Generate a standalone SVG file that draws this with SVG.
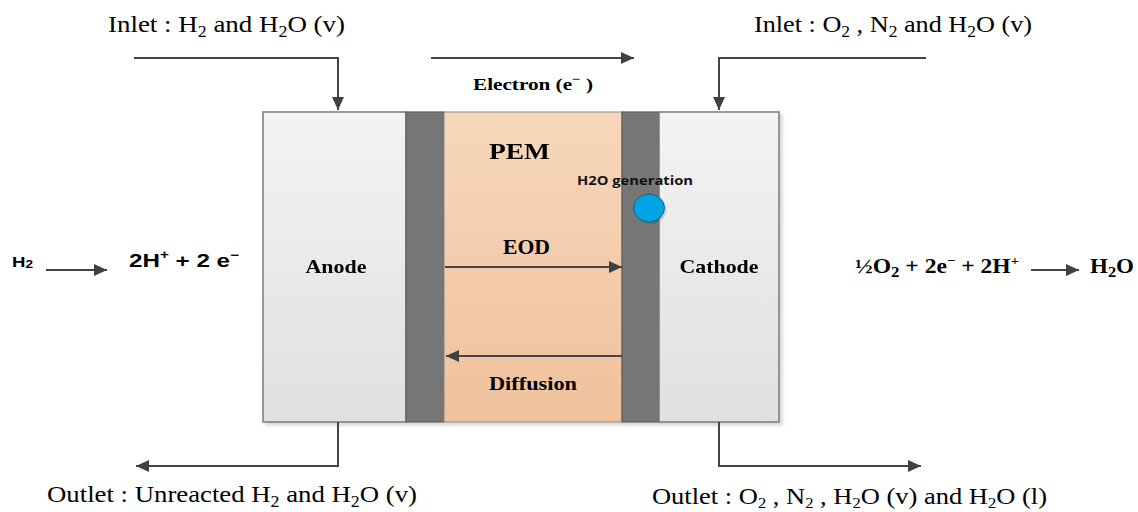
<svg xmlns="http://www.w3.org/2000/svg" width="1138" height="512" viewBox="0 0 1138 512">
<defs>
  <linearGradient id="gElec" x1="0" y1="0" x2="0" y2="1">
    <stop offset="0" stop-color="#f3f3f3"/>
    <stop offset="1" stop-color="#e0e0e0"/>
  </linearGradient>
  <linearGradient id="gPem" x1="0" y1="0" x2="0" y2="1">
    <stop offset="0" stop-color="#f7d7bb"/>
    <stop offset="1" stop-color="#f0c19d"/>
  </linearGradient>
  <filter id="shadow" x="-10%" y="-10%" width="120%" height="120%">
    <feDropShadow dx="3" dy="3" stdDeviation="1.5" flood-color="#000" flood-opacity="0.15"/>
  </filter>
  <marker id="arr" markerUnits="userSpaceOnUse" markerWidth="14" markerHeight="12" refX="13" refY="6" orient="auto">
    <path d="M0,0 L13,6 L0,12 z" fill="#404040"/>
  </marker>
</defs>
<style>
  .ln { fill: none; stroke: #444; stroke-width: 2; }
  .serif { font-family: "Liberation Serif", "Times New Roman", serif; fill: #000; }
  .sbold { font-family: "Liberation Serif", "Times New Roman", serif; font-weight: bold; fill: #000; }
  .sans { font-family: "Liberation Sans", Arial, sans-serif; font-weight: bold; fill: #000; }
  .elec { fill: url(#gElec); stroke: #7a7a7a; stroke-width: 1.5; }
  .gdl { fill: #767676; stroke: #5e5e5e; stroke-width: 1.2; }
  .pem { fill: url(#gPem); stroke: #8a8a8a; stroke-width: 1; }
</style>

<g id="cell" filter="url(#shadow)">
  <g id="anode">
    <rect class="elec" x="263" y="112" width="143" height="310"/>
    <text class="sbold" x="336" y="273" font-size="19" text-anchor="middle" textLength="61" lengthAdjust="spacingAndGlyphs">Anode</text>
  </g>
  <g id="anode-gdl">
    <rect class="gdl" x="406" y="112" width="38" height="310"/>
  </g>
  <g id="pem">
    <rect class="pem" x="444" y="112" width="178" height="310"/>
    <text class="sbold" x="489" y="159" font-size="23" textLength="61" lengthAdjust="spacingAndGlyphs">PEM</text>
  </g>
  <g id="cathode-gdl">
    <rect class="gdl" x="622" y="112" width="37" height="310"/>
  </g>
  <g id="cathode">
    <rect class="elec" x="659" y="112" width="120" height="310"/>
    <text class="sbold" x="719" y="273" font-size="19" text-anchor="middle" textLength="79" lengthAdjust="spacingAndGlyphs">Cathode</text>
  </g>
</g>

<g id="water-drop">
  <ellipse cx="651" cy="210" rx="15.5" ry="14" fill="#000" opacity="0.12"/>
  <ellipse cx="649" cy="208" rx="15.5" ry="14" fill="#00a4e4" stroke="#1f5f80" stroke-width="1"/>
  <text x="577" y="185" font-family="'Open Sans', 'Liberation Sans', sans-serif" font-weight="bold" font-size="13" fill="#111" textLength="116" lengthAdjust="spacingAndGlyphs">H2O generation</text>
</g>

<g id="connectors">
  <path class="ln" d="M134,58 H338 V110" marker-end="url(#arr)"/>
  <path class="ln" d="M926,58 H719 V110" marker-end="url(#arr)"/>
  <path class="ln" d="M431,58 H634" marker-end="url(#arr)"/>
  <path class="ln" d="M338,422 V466 H136" marker-end="url(#arr)"/>
  <path class="ln" d="M719,422 V466 H921" marker-end="url(#arr)"/>
  <path class="ln" d="M445,267 H622" marker-end="url(#arr)"/>
  <path class="ln" d="M622,356 H446" marker-end="url(#arr)"/>
  <path class="ln" d="M46,270 H107" marker-end="url(#arr)"/>
  <path class="ln" d="M1031,270 H1079" marker-end="url(#arr)"/>
</g>

<g id="labels">
  <text class="sbold" x="503" y="254" font-size="20" textLength="47" lengthAdjust="spacingAndGlyphs">EOD</text>
  <text class="sbold" x="489" y="390" font-size="19" textLength="88" lengthAdjust="spacingAndGlyphs">Diffusion</text>
  <text class="sbold" x="473" y="90" font-size="17" textLength="120" lengthAdjust="spacingAndGlyphs">Electron (e<tspan font-size="12" dy="-7">−</tspan><tspan dy="7"> )</tspan></text>

  <text class="serif" x="108" y="32" font-size="24" textLength="237" lengthAdjust="spacingAndGlyphs">Inlet : H<tspan font-size="16" dy="5">2</tspan><tspan dy="-5"> and H</tspan><tspan font-size="16" dy="5">2</tspan><tspan dy="-5">O (v)</tspan></text>
  <text class="serif" x="754" y="32" font-size="24" textLength="278" lengthAdjust="spacingAndGlyphs">Inlet : O<tspan font-size="16" dy="5">2</tspan><tspan dy="-5"> , N</tspan><tspan font-size="16" dy="5">2</tspan><tspan dy="-5"> and H</tspan><tspan font-size="16" dy="5">2</tspan><tspan dy="-5">O (v)</tspan></text>
  <text class="serif" x="47" y="502" font-size="24" textLength="370" lengthAdjust="spacingAndGlyphs">Outlet : Unreacted H<tspan font-size="16" dy="5">2</tspan><tspan dy="-5"> and H</tspan><tspan font-size="16" dy="5">2</tspan><tspan dy="-5">O (v)</tspan></text>
  <text class="serif" x="652" y="504" font-size="24" textLength="395" lengthAdjust="spacingAndGlyphs">Outlet : O<tspan font-size="15" dy="4">2</tspan><tspan dy="-4"> , N</tspan><tspan font-size="15" dy="4">2</tspan><tspan dy="-4"> , H</tspan><tspan font-size="15" dy="4">2</tspan><tspan dy="-4">O (v) and H</tspan><tspan font-size="15" dy="4">2</tspan><tspan dy="-4">O (l)</tspan></text>

  <text class="sans" x="12" y="267" font-size="15" textLength="21" lengthAdjust="spacingAndGlyphs">H<tspan font-size="11" dy="1">2</tspan></text>
  <text class="sans" x="129" y="267" font-size="19" textLength="110" lengthAdjust="spacingAndGlyphs">2H<tspan font-size="12" dy="-8">+</tspan><tspan dy="8"> + 2 e</tspan><tspan font-size="12" dy="-8">−</tspan></text>

  <text class="sbold" x="855" y="273" font-size="21" textLength="164" lengthAdjust="spacingAndGlyphs">½O<tspan font-size="15" dy="4">2</tspan><tspan dy="-4"> + 2e</tspan><tspan font-size="13" dy="-8">−</tspan><tspan dy="8"> + 2H</tspan><tspan font-size="13" dy="-8">+</tspan></text>
  <text class="sbold" x="1090" y="273" font-size="21" textLength="44" lengthAdjust="spacingAndGlyphs">H<tspan font-size="15" dy="4">2</tspan><tspan dy="-4">O</tspan></text>
</g>
</svg>
